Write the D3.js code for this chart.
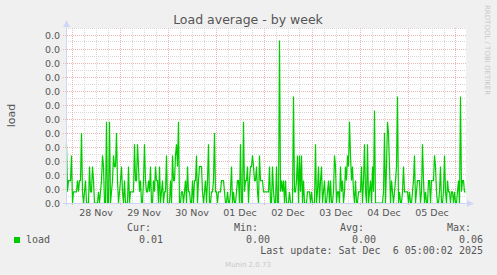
<!DOCTYPE html>
<html>
<head>
<meta charset="utf-8">
<script src="https://cdn.jsdelivr.net/npm/d3@7"></script>
<style>
  body { margin: 0; background: #f0f0f0; }
  svg { display: block; }
</style>
</head>
<body>
<svg id="chart" width="497" height="275"></svg>
<script>
// Munin load plugin, week view: one averaged value every 30 minutes
let graphTitle = "Load average - by week";
let axisLabel = "load";
let timeStart = new Date(2025, 10, 27, 21, 0);
let timeEnd = new Date(2025, 11, 6, 5, 0);
let stepMinutes = 30;

// load values (20 per row)
let load = [
  0.021, 0.004, 0.008, 0.008, 0.008, 0.017, 0, 0.004, 0.004, 0.004, 0.004, 0.008, 0.004, 0.008, 0.008, 0.025, 0.004, 0, 0.004, 0.008,
  0, 0, 0, 0.013, 0.004, 0.004, 0.013, 0.008, 0, 0, 0, 0, 0.004, 0, 0.004, 0.008, 0.017, 0.013, 0, 0,
  0.029, 0, 0, 0.029, 0, 0.004, 0.008, 0.017, 0.013, 0.013, 0.025, 0.008, 0, 0.004, 0.008, 0.013, 0.004, 0, 0.008, 0,
  0, 0, 0.013, 0, 0.004, 0.004, 0.004, 0.004, 0.021, 0.008, 0.008, 0.021, 0.013, 0.004, 0.008, 0, 0, 0.008, 0.021, 0.008,
  0.004, 0.004, 0.008, 0.004, 0.013, 0, 0, 0.008, 0.004, 0.013, 0.008, 0.008, 0, 0.013, 0, 0.004, 0.008, 0, 0.004, 0.004,
  0.017, 0, 0, 0, 0.008, 0, 0.017, 0.008, 0.008, 0.017, 0.021, 0.013, 0.029, 0, 0, 0.004, 0.004, 0, 0.004, 0.008,
  0, 0.013, 0.004, 0.004, 0, 0, 0.008, 0, 0.008, 0.008, 0.017, 0, 0.008, 0.013, 0.013, 0.013, 0.004, 0, 0.004, 0.008,
  0, 0.008, 0.021, 0, 0, 0.004, 0.004, 0.008, 0.025, 0.004, 0.004, 0, 0.004, 0.004, 0.004, 0.008, 0.008, 0.008, 0.004, 0,
  0, 0.004, 0, 0, 0.004, 0.013, 0, 0.004, 0, 0, 0.004, 0.008, 0.008, 0, 0.021, 0, 0, 0.029, 0.004, 0.008,
  0.008, 0.013, 0, 0.008, 0.013, 0.013, 0.017, 0.013, 0.008, 0.008, 0.013, 0.004, 0, 0.017, 0.008, 0.008, 0.008, 0.004, 0.004, 0.004,
  0.004, 0.004, 0.004, 0.013, 0, 0, 0.013, 0.004, 0, 0, 0.013, 0, 0, 0.058, 0.004, 0.008, 0.004, 0.008, 0, 0.008,
  0, 0, 0, 0.004, 0, 0, 0, 0.038, 0.004, 0.004, 0.008, 0.017, 0, 0.017, 0.004, 0.017, 0, 0.008, 0, 0,
  0, 0.004, 0.004, 0.004, 0, 0.004, 0, 0, 0, 0.021, 0, 0.004, 0.013, 0, 0.008, 0.013, 0, 0.004, 0.008, 0,
  0, 0.004, 0.008, 0, 0.008, 0, 0, 0.004, 0.017, 0.013, 0, 0.004, 0.004, 0, 0.013, 0.004, 0.008, 0, 0.004, 0.013,
  0.008, 0.017, 0.013, 0.029, 0.017, 0.008, 0.013, 0.004, 0, 0.008, 0, 0, 0.004, 0.004, 0.004, 0.013, 0, 0.008, 0.021, 0.004,
  0, 0.021, 0, 0.004, 0.008, 0, 0.013, 0.004, 0.033, 0, 0, 0, 0, 0, 0, 0, 0, 0.004, 0.025, 0,
  0.013, 0.029, 0.025, 0.013, 0, 0.008, 0.004, 0, 0.004, 0.008, 0.013, 0.038, 0, 0.004, 0, 0, 0.004, 0.013, 0.004, 0.004,
  0.004, 0.004, 0, 0.004, 0, 0, 0.004, 0.008, 0.017, 0, 0.004, 0.008, 0.008, 0.008, 0, 0.004, 0.021, 0.008, 0, 0.004,
  0, 0, 0.008, 0.008, 0, 0.008, 0.008, 0.008, 0.017, 0.013, 0.004, 0, 0, 0.004, 0.013, 0, 0, 0.004, 0.017, 0.004,
  0, 0.008, 0.004, 0.004, 0, 0.004, 0.004, 0, 0.004, 0, 0, 0.004, 0.008, 0, 0.038, 0.004, 0.008, 0.008, 0.004, 0.004,
];

// y axis: a label every 0.005; rrdtool cuts them to one decimal, so all read 0.0
let yTicks = [0, 0.005, 0.01, 0.015, 0.02, 0.025, 0.03, 0.035, 0.04, 0.045, 0.05, 0.055, 0.06];
let yMinor = [0.0025, 0.0075, 0.0125, 0.0175, 0.0225, 0.0275, 0.0325, 0.0375, 0.0425, 0.0475, 0.0525, 0.0575, 0.0625];
let yMax = 0.0625;

// legend
let seriesName = "load";
let statNames = ["Cur:", "Min:", "Avg:", "Max:"];
let statValues = ["0.01", "0.00", "0.00", "0.06"];
let lastUpdate = "Last update: Sat Dec  6 05:00:02 2025";
let versionText = "Munin 2.0.73";
let watermark = "RRDTOOL / TOBI OETIKER";

let lineColor = "#00cc00";
let axisColor = "#cfd6f8";
let fontColor = "#555";
let minorGridColor = "#d8d8d8";
let majorGridColor = "#efb6b6";

let points = load.map(function (v, i) {
  return { t: d3.timeMinute.offset(timeStart, i * stepMinutes), v: v };
});

let svg = d3.select("#chart");

let x = d3.scaleTime().domain([timeStart, timeEnd]).range([66, 466]);
let y = d3.scaleLinear().domain([0, yMax]).range([203, 28]);

let plotLeft = x.range()[0];
let plotRight = x.range()[1];
let plotBottom = y.range()[0];
let plotTop = y.range()[1];

// snaps a coordinate to the middle of a pixel so 1px lines stay sharp
function crisp(v) {
  return Math.floor(v) + 0.5;
}

// rrdtool style label: truncated, one decimal
function yLabel(d) {
  return d3.format(".1f")(Math.floor(d * 10 + 1e-9) / 10);
}

// canvas
svg.append("rect")
  .attr("x", plotLeft)
  .attr("y", plotTop)
  .attr("width", plotRight - plotLeft)
  .attr("height", plotBottom - plotTop)
  .attr("fill", "#ffffff");

//////// grid ////////
let grid = svg.append("g").attr("fill", "none").attr("stroke-width", 1).attr("stroke-dasharray", "1,1");

let minorHours = d3.timeHour.every(6).range(timeStart, timeEnd).filter(function (d) {
  return d.getHours() !== 0;
});
let days = d3.timeDay.range(timeStart, timeEnd);

grid.selectAll(".vminor")
  .data(minorHours)
  .join("line")
  .attr("x1", function (d) { return crisp(x(d)); })
  .attr("x2", function (d) { return crisp(x(d)); })
  .attr("y1", plotTop)
  .attr("y2", plotBottom)
  .attr("stroke", minorGridColor);

grid.selectAll(".hminor")
  .data(yMinor)
  .join("line")
  .attr("x1", plotLeft)
  .attr("x2", plotRight)
  .attr("y1", function (d) { return crisp(y(d)); })
  .attr("y2", function (d) { return crisp(y(d)); })
  .attr("stroke", minorGridColor);

grid.selectAll(".vmajor")
  .data(days)
  .join("line")
  .attr("x1", function (d) { return crisp(x(d)); })
  .attr("x2", function (d) { return crisp(x(d)); })
  .attr("y1", plotTop)
  .attr("y2", plotBottom + 3)
  .attr("stroke", majorGridColor);

grid.selectAll(".hmajor")
  .data(yTicks.slice(1))
  .join("line")
  .attr("x1", plotLeft - 3)
  .attr("x2", plotRight)
  .attr("y1", function (d) { return crisp(y(d)); })
  .attr("y2", function (d) { return crisp(y(d)); })
  .attr("stroke", majorGridColor);

//////// data line ////////
let line = d3.line()
  .x(function (d) { return x(d.t) + 0.5; })
  .y(function (d) { return y(d.v); });

svg.append("path")
  .datum(points)
  .attr("d", line)
  .attr("fill", "none")
  .attr("stroke", lineColor)
  .attr("stroke-width", 1.2)
  .attr("stroke-linejoin", "miter");

//////// axes + arrows ////////
svg.append("line")
  .attr("x1", plotLeft - 3).attr("x2", plotRight + 3)
  .attr("y1", crisp(plotBottom)).attr("y2", crisp(plotBottom))
  .attr("stroke", axisColor);
svg.append("path")
  .attr("d", "M" + (plotRight + 1) + "," + (plotBottom - 3) + "L" + (plotRight + 8) + "," + (plotBottom + 0.5) + "L" + (plotRight + 1) + "," + (plotBottom + 4) + "Z")
  .attr("fill", axisColor);

svg.append("line")
  .attr("x1", crisp(plotLeft)).attr("x2", crisp(plotLeft))
  .attr("y1", plotBottom + 3).attr("y2", plotTop - 3)
  .attr("stroke", axisColor);
svg.append("path")
  .attr("d", "M" + (plotLeft - 3) + "," + (plotTop - 1) + "L" + (plotLeft + 0.5) + "," + (plotTop - 8) + "L" + (plotLeft + 4) + "," + (plotTop - 1) + "Z")
  .attr("fill", axisColor);

//////// texts ////////
let sans = "'DejaVu Sans', sans-serif";
let mono = "'DejaVu Sans Mono', monospace";

svg.append("text")
  .attr("x", 248)
  .attr("y", 24)
  .attr("text-anchor", "middle")
  .attr("font-family", sans)
  .attr("font-size", 12.5)
  .attr("fill", fontColor)
  .text(graphTitle);

svg.append("text")
  .attr("transform", "translate(15," + (plotTop + plotBottom) / 2 + ") rotate(-90)")
  .attr("text-anchor", "middle")
  .attr("font-family", sans)
  .attr("font-size", 11)
  .attr("fill", fontColor)
  .text(axisLabel);

svg.selectAll(".ylab")
  .data(yTicks)
  .join("text")
  .attr("x", plotLeft - 6)
  .attr("y", function (d) { return y(d) + 3.5; })
  .attr("text-anchor", "end")
  .attr("font-family", sans)
  .attr("font-size", 9.5)
  .attr("fill", fontColor)
  .text(yLabel);

let noonTicks = days.map(function (d) { return d3.timeHour.offset(d, 12); }).filter(function (d) {
  return d < timeEnd;
});

svg.selectAll(".xlab")
  .data(noonTicks)
  .join("text")
  .attr("x", function (d) { return x(d); })
  .attr("y", 216)
  .attr("text-anchor", "middle")
  .attr("font-family", sans)
  .attr("font-size", 9.5)
  .attr("fill", fontColor)
  .text(d3.timeFormat("%d %b"));

svg.append("text")
  .attr("transform", "translate(485,5) rotate(90)")
  .attr("font-family", sans)
  .attr("font-size", 7)
  .attr("fill", "#c8c8c8")
  .text(watermark);

//////// legend ////////
let statRight = [163, 270, 376, 483];

svg.append("rect")
  .attr("x", 14).attr("y", 237)
  .attr("width", 6).attr("height", 6)
  .attr("fill", lineColor);

svg.append("text")
  .attr("x", 26)
  .attr("y", 243)
  .attr("font-family", mono)
  .attr("font-size", 10)
  .attr("fill", fontColor)
  .text(seriesName);

svg.selectAll(".statname")
  .data(statNames)
  .join("text")
  .attr("x", function (d, i) { return statRight[i] - 12; })
  .attr("y", 231)
  .attr("text-anchor", "end")
  .attr("font-family", mono)
  .attr("font-size", 10)
  .attr("fill", fontColor)
  .text(function (d) { return d; });

svg.selectAll(".statval")
  .data(statValues)
  .join("text")
  .attr("x", function (d, i) { return statRight[i]; })
  .attr("y", 243)
  .attr("text-anchor", "end")
  .attr("font-family", mono)
  .attr("font-size", 10)
  .attr("fill", fontColor)
  .text(function (d) { return d; });

svg.append("text")
  .attr("x", 483)
  .attr("y", 254)
  .attr("text-anchor", "end")
  .attr("font-family", mono)
  .attr("font-size", 10)
  .attr("fill", fontColor)
  .style("white-space", "pre")
  .text(lastUpdate);

svg.append("text")
  .attr("x", 248)
  .attr("y", 267)
  .attr("text-anchor", "middle")
  .attr("font-family", sans)
  .attr("font-size", 7)
  .attr("fill", "#c8c8c8")
  .text(versionText);
</script>
</body>
</html>
